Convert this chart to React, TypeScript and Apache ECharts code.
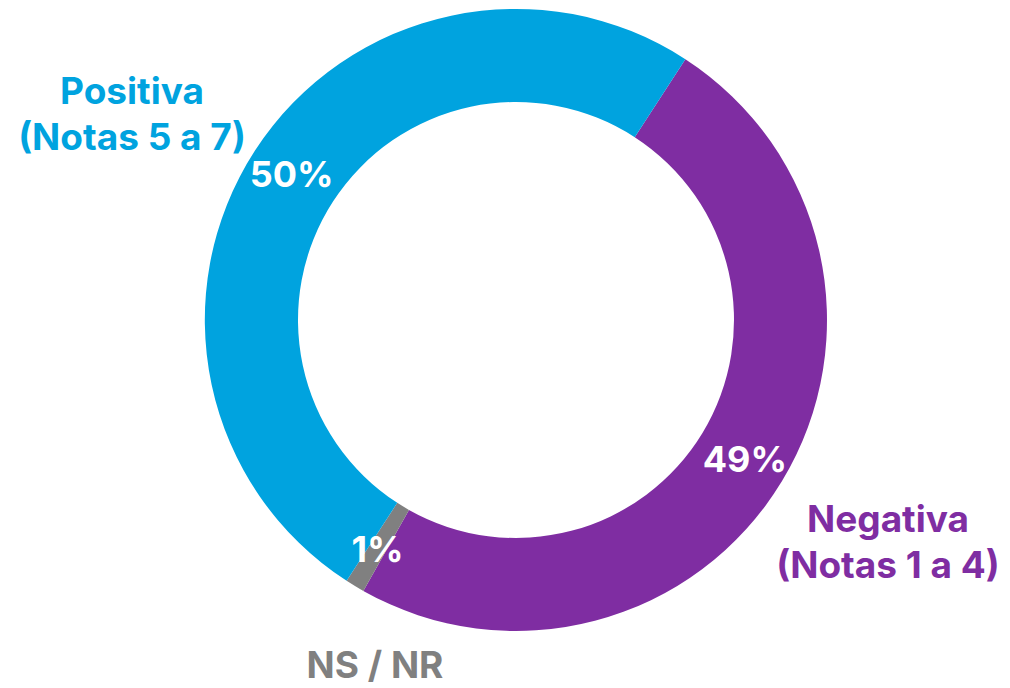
import React, { useEffect, useRef } from "react";
import * as echarts from "echarts";

const categories = ["Negativa\n(Notas 1 a 4)", "NS / NR", "Positiva\n(Notas 5 a 7)"];
const values = [49, 1, 50];
const colors = ["#7F2DA2", "#808080", "#00A3DF"];

const FONT = "Inter, 'Open Sans', sans-serif";

export default function App() {
  const ref = useRef<HTMLDivElement>(null);
  useEffect(() => {
    if (!ref.current) return;
    const chart = echarts.init(ref.current, undefined, { renderer: "svg" });
    // position of the first line of each outer label
    const labelPos: [number, number][] = [
      [888, 518],
      [375, 664],
      [132, 90],
    ];
    const graphics: any[] = [];
    categories.forEach((name, i) => {
      name.split("\n").forEach((line, j) => {
        graphics.push({
          type: "text",
          x: labelPos[i][0],
          y: labelPos[i][1] + j * 46,
          style: {
            text: line,
            fill: colors[i],
            fontSize: 37,
            lineHeight: 42,
            fontWeight: "bold",
            fontFamily: FONT,
            textAlign: "center",
            textVerticalAlign: "middle",
          },
        });
      });
    });
    chart.setOption({
      animation: false,
      series: [
        {
          type: "pie",
          center: [516, 320],
          radius: [218, 311],
          startAngle: 57,
          clockwise: true,
          silent: true,
          label: {
            show: true,
            position: "inside",
            formatter: "{c}%",
            color: "#ffffff",
            fontSize: 36,
            fontWeight: "bold",
            fontFamily: FONT,
          },
          labelLine: { show: false },
          data: categories.map((name, i) => ({
            name,
            value: values[i],
            itemStyle: { color: colors[i] },
          })),
        },
      ],
      graphic: graphics,
    });
    return () => chart.dispose();
  }, []);
  return (
    <div
      ref={ref}
      style={{ position: "fixed", left: 0, top: 0, width: 1010, height: 688, background: "#fff" }}
    />
  );
}
